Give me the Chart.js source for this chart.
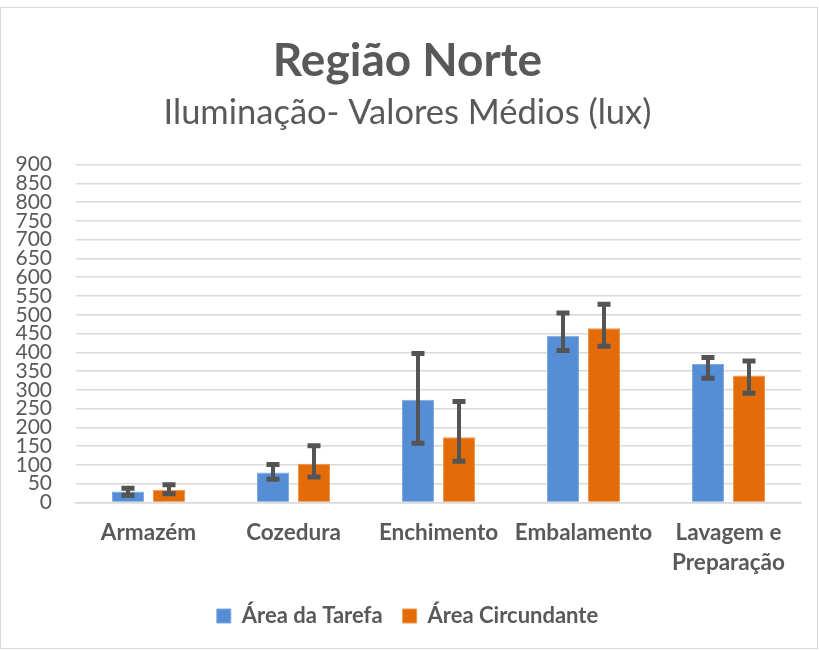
<!DOCTYPE html>
<html lang="pt">
<head>
<meta charset="UTF-8">
<title>Região Norte</title>
<script src="https://cdn.jsdelivr.net/npm/chart.js"></script>
<style>
body {
  margin: 0;
  background: #fff;
}
.frame {
  position: absolute;
  left: 0;
  top: 7px;
  width: 816px;
  height: 640px;
  border: 1px solid #d9d9d9;
  background: #fff;
}
</style>
</head>
<body>
<div class="frame">
  <canvas id="chart" width="816" height="640"></canvas>
</div>
<script>
// data
const categories = ['Armazém', 'Cozedura', 'Enchimento', 'Embalamento', ['Lavagem e', 'Preparação']];
const tarefa = [29, 80, 274, 444, 369];
const tarefaLow = [19, 62, 158, 405, 331];
const tarefaHigh = [38, 101, 397, 505, 386];
const circundante = [34, 103, 174, 464, 338];
const circundanteLow = [23, 68, 110, 416, 291];
const circundanteHigh = [47, 151, 269, 528, 377];

const textGrey = '#595959';

// draws the vertical error bars on top of each bar
const errorBars = {
  id: 'errorBars',
  afterDatasetsDraw(chart) {
    const ctx = chart.ctx;
    const y = chart.scales.y;
    ctx.save();
    ctx.strokeStyle = '#545454';
    ctx.lineCap = 'butt';
    chart.data.datasets.forEach((ds, i) => {
      const meta = chart.getDatasetMeta(i);
      meta.data.forEach((bar, j) => {
        const top = y.getPixelForValue(ds.high[j]);
        const bottom = y.getPixelForValue(ds.low[j]);
        ctx.lineWidth = 4;
        ctx.beginPath();
        ctx.moveTo(bar.x, top);
        ctx.lineTo(bar.x, bottom);
        ctx.stroke();
        ctx.lineWidth = 5;
        ctx.beginPath();
        ctx.moveTo(bar.x - 6.5, top);
        ctx.lineTo(bar.x + 6.5, top);
        ctx.moveTo(bar.x - 6.5, bottom);
        ctx.lineTo(bar.x + 6.5, bottom);
        ctx.stroke();
      });
    });
    ctx.restore();
  }
};

new Chart(document.getElementById('chart'), {
  type: 'bar',
  data: {
    labels: categories,
    datasets: [{
      label: 'Área da Tarefa',
      data: tarefa,
      low: tarefaLow,
      high: tarefaHigh,
      backgroundColor: '#558ED5',
      borderColor: '#7FA9E0',
      borderWidth: 1
    }, {
      label: 'Área Circundante',
      data: circundante,
      low: circundanteLow,
      high: circundanteHigh,
      backgroundColor: '#E36C09',
      borderColor: '#EE9550',
      borderWidth: 1
    }]
  },
  options: {
    responsive: false,
    animation: false,
    categoryPercentage: 0.566,
    barPercentage: 0.78,
    layout: { padding: { left: 13, right: 16, top: 0, bottom: 11 } },
    scales: {
      x: {
        grid: { display: false },
        border: { color: '#d9d9d9', width: 1.5 },
        ticks: {
          color: textGrey,
          font: { family: 'Lato', size: 22.5, weight: 'bold', lineHeight: 1.3 },
          maxRotation: 0,
          autoSkip: false,
          padding: 8
        }
      },
      y: {
        min: 0,
        max: 900,
        grid: { color: '#d9d9d9', lineWidth: 1.5, drawTicks: false },
        border: { display: false },
        afterFit(scale) { scale.width = 62; },
        ticks: {
          stepSize: 50,
          color: textGrey,
          font: { family: 'Lato', size: 21 },
          padding: 24,
          autoSkip: false
        }
      }
    },
    plugins: {
      title: {
        display: true,
        text: 'Região Norte',
        color: textGrey,
        font: { family: 'Lato', size: 46, weight: 'bold' },
        padding: { top: 26, bottom: 3 }
      },
      subtitle: {
        display: true,
        text: 'Iluminação- Valores Médios (lux)',
        color: textGrey,
        font: { family: 'Lato', size: 34.5 },
        padding: { top: 0, bottom: 31 }
      },
      legend: {
        position: 'bottom',
        labels: {
          color: textGrey,
          font: { family: 'Lato', size: 22, weight: 'bold' },
          boxWidth: 14,
          boxHeight: 14,
          padding: 20
        }
      },
      tooltip: { enabled: false }
    }
  },
  plugins: [errorBars]
});
</script>
</body>
</html>
